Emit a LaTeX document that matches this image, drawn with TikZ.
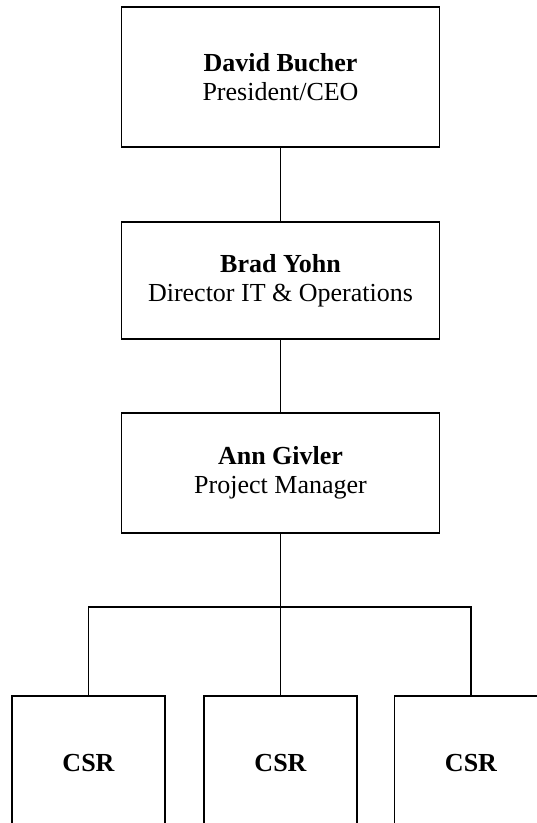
\documentclass[tikz,border=0pt]{standalone}
\usepackage{fontspec}
\setmainfont{Liberation Serif}
\begin{document}
\begin{tikzpicture}[x=1pt,y=-1pt,
  box/.style={draw, line width=1.6pt, align=center, inner sep=0pt,
    font=\fontsize{26}{29}\selectfont},
  top/.style={box, minimum width=318pt},
  csr/.style={box, minimum width=153pt, minimum height=134pt, font=\fontsize{26}{29}\selectfont\bfseries},
  link/.style={line width=1.6pt}]
\useasboundingbox (0,0) rectangle (537,823);
\clip (0,0) rectangle (537,823);
\fill[white] (0,0) rectangle (537,823);
\node[top, minimum height=140pt] (ceo) at (280.5,77) {\textbf{David Bucher}\\President/CEO};
\node[top, minimum height=117pt] (dir) at (280.5,280.5) {\textbf{Brad Yohn}\\Director IT \& Operations};
\node[top, minimum height=120pt] (pm) at (280.5,473) {\textbf{Ann Givler}\\Project Manager};
\node[csr] (c1) at (88.5,763) {CSR};
\node[csr] (c2) at (280.5,763) {CSR};
\node[csr] (c3) at (471,763) {CSR};
\coordinate (bl) at (88.5,607);
\draw[link] (ceo) -- (dir);
\draw[link] (dir) -- (pm);
\draw[link] (pm) -- (c2);
\draw[link] (c1.north) -- (bl) -- (bl -| c3.north) -- (c3.north);
\end{tikzpicture}
\end{document}
